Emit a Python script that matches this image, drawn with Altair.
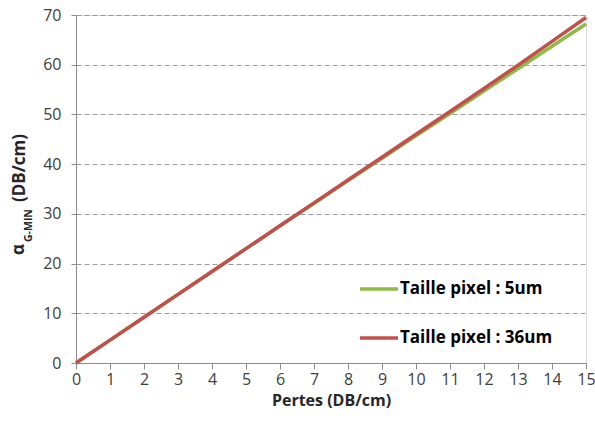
import altair as alt
import pandas as pd

# Losses on the x axis (DB/cm)
pertes = list(range(16))

# Minimum gain alpha_G-MIN (DB/cm) for each pixel size
alpha_5um = [0, 4.6, 9.2, 13.8, 18.4, 23.0, 27.6, 32.1, 36.7, 41.2, 45.7, 50.2, 54.7, 59.2, 63.7, 68.2]
alpha_36um = [0, 4.6, 9.2, 13.8, 18.4, 23.0, 27.6, 32.2, 36.8, 41.4, 46.0, 50.6, 55.2, 59.9, 64.7, 69.5]

series_names = ["Taille pixel : 5um", "Taille pixel : 36um"]
series_colors = ["#8DBB45", "#C0504D"]
y_ticks = [0, 10, 20, 30, 40, 50, 60, 70]

rows = []
for name, values in zip(series_names, [alpha_5um, alpha_36um]):
    for x, v in zip(pertes, values):
        rows.append({"pertes": x, "alpha": v, "serie": name})
df = pd.DataFrame(rows)

FONT = "Open Sans"
AXIS_GRAY = "#8C8C8C"
LABEL_COLOR = "#404040"

lines = alt.Chart(df).mark_line(strokeWidth=3.5).encode(
    x=alt.X(
        "pertes:Q",
        scale=alt.Scale(domain=[0, 15], nice=False, zero=True),
        axis=alt.Axis(
            values=pertes, title="Pertes (DB/cm)", grid=False,
            domainColor=AXIS_GRAY, tickColor=AXIS_GRAY, tickSize=6,
            labelFont=FONT, labelFontSize=16, labelColor=LABEL_COLOR,
            labelPadding=2, labelFlush=False,
            titleFont=FONT, titleFontSize=16, titleFontWeight="bold",
            titleColor="#262626", titlePadding=5,
        ),
    ),
    y=alt.Y(
        "alpha:Q",
        scale=alt.Scale(domain=[0, 70], nice=False),
        axis=alt.Axis(
            values=y_ticks, title=None, grid=True,
            gridColor="#9A9A9A", gridDash=[5, 3], gridWidth=1,
            domainColor=AXIS_GRAY, tickColor=AXIS_GRAY, tickSize=5,
            labelFont=FONT, labelFontSize=16, labelColor=LABEL_COLOR,
            labelPadding=10, labelFlush=False,
        ),
    ),
    color=alt.Color(
        "serie:N",
        scale=alt.Scale(domain=series_names, range=series_colors),
        legend=alt.Legend(
            title=None, orient="none", legendX=282, legendY=253,
            symbolType="stroke", symbolSize=1444, symbolStrokeWidth=3.5,
            labelFont=FONT, labelFontSize=17, labelFontWeight="bold",
            labelColor="black", labelOffset=0, labelLimit=300,
            rowPadding=20,
        ),
    ),
    order=alt.Order("pertes:Q"),
)

# Y-axis title with the subscript: alpha, "G-MIN", then the unit
def title_part(text, x, y, size):
    return alt.Chart(pd.DataFrame({"t": [text]})).mark_text(
        angle=270, align="left", baseline="alphabetic",
        font=FONT, fontSize=size, fontWeight="bold", color="#262626",
    ).encode(text="t:N", x=alt.value(x), y=alt.value(y))

title_alpha = title_part("α", -52, 240, 17)
title_sub = title_part("G-MIN", -44, 227, 10.5)
title_unit = title_part("(DB/cm)", -51, 187, 17)

chart = alt.layer(lines, title_alpha, title_sub, title_unit).properties(
    width=510,
    height=348,
    padding={"left": 76, "top": 15, "right": 9, "bottom": 60},
    autosize=alt.AutoSizeParams(type="none"),
).configure_view(stroke=None).configure(background="white")

chart.save("out.html", embed_options={"renderer": "svg", "actions": False})
